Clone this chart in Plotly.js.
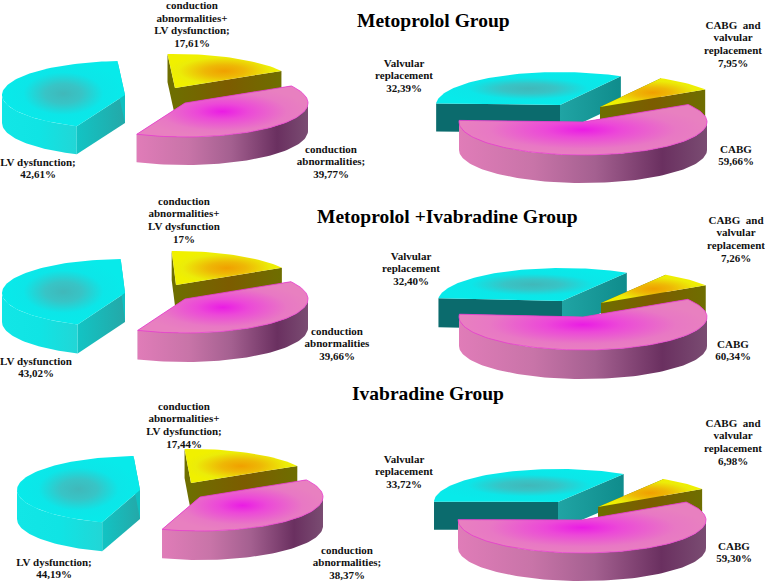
<!DOCTYPE html>
<html>
<head>
<meta charset="utf-8">
<script src="https://cdn.plot.ly/plotly-3.0.1.min.js"></script>
<style>html,body{margin:0;padding:0;background:#fff}#chart{width:765px;height:582px}</style>
</head>
<body>
<div id="chart"></div>
<script>
// ---- data ----
const groupTitles = ["Metoprolol Group", "Metoprolol +Ivabradine Group", "Ivabradine Group"];
const indicationNames = ["conduction abnormalities+LV dysfunction", "conduction abnormalities", "LV dysfunction"];
const surgeryNames = ["CABG and valvular replacement", "CABG", "Valvular replacement"];
const indicationValues = [
  [17.61, 39.77, 42.61],
  [17, 39.66, 43.02],
  [17.44, 38.37, 44.19]
];
const surgeryValues = [
  [7.95, 59.66, 32.39],
  [7.26, 60.34, 32.40],
  [6.98, 59.30, 33.72]
];
const indicationLabels = [
  [["conduction","abnormalities+","LV dysfunction;","17,61%"], ["conduction","abnormalities;","39,77%"], ["LV dysfunction;","42,61%"]],
  [["conduction","abnormalities+","LV dysfunction","17%"], ["conduction","abnormalities","39,66%"], ["LV dysfunction","43,02%"]],
  [["conduction","abnormalities+","LV dysfunction;","17,44%"], ["conduction","abnormalities;","38,37%"], ["LV dysfunction;","44,19%"]]
];
const surgeryLabels = [
  [["CABG  and","valvular","replacement","7,95%"], ["CABG","59,66%"], ["Valvular","replacement","32,39%"]],
  [["CABG  and","valvular","replacement","7,26%"], ["CABG","60,34%"], ["Valvular","replacement","32,40%"]],
  [["CABG  and","valvular","replacement","6,98%"], ["CABG","59,30%"], ["Valvular","replacement","33,72%"]]
];

// ---- layout of the page (pixels on the hidden 765x582 axes) ----
const titlePlace = [[433,20],[447,216],[428,393]];
const leftPlace = [
  {start:-3.5, rx:123, ry:34, depth:28, c:[[175,88],[185,103],[125,95]], text:[[192,6.5],[331,150],[38,163]]},
  {start:-2.0, rx:123, ry:34, depth:29, c:[[176,285],[185,299],[125,293]], text:[[184,202],[337,332],[36,362]]},
  {start:-3.0, rx:123, ry:34, depth:29, c:[[191,483],[200,497],[140,490]], text:[[184,407],[347,551],[54,563]]}
];
const rightPlace = [
  {start:29.4, rx:124, ry:33, depth:28, c:[[600,107],[583,122],[560,105]], text:[[733,26],[736,150],[404,64]]},
  {start:31.5, rx:124, ry:33, depth:29, c:[[601,303],[583,317],[562,301]], text:[[736,221],[733,345],[411,257]]},
  {start:32.0, rx:124, ry:33, depth:28, c:[[598,507],[582,520],[558,502]], text:[[733,424],[734,547],[404,460]]}
];
const lineGap = 12.6;

const flat = c => ({type:'horizontal', colorscale:[[0,c],[1,c]]});
const yellowTop = {type:'radial', colorscale:[[0,'#f0a000'],[0.35,'#eeb806'],[0.8,'#ecec08'],[1,'#f0f000']]};
const magentaTop = {type:'radial', colorscale:[[0,'#ea1ce4'],[0.3,'#ec48d8'],[0.75,'#e878c4'],[1,'#e880c0']]};
const cyanTop = {type:'radial', colorscale:[[0,'#40b8ba'],[0.3,'#38c4c6'],[0.65,'#0ce6e8'],[1,'#08eaea']]};
const olive = {type:'horizontal', colorscale:[[0,'#6e6e00'],[0.5,'#7c5c00'],[1,'#6e6e00']]};
const magentaRim = {type:'horizontal', colorscale:[[0,'#e07cb8'],[0.3,'#c874a8'],[0.55,'#a46090'],[0.82,'#6a3060'],[1,'#7a4c72']]};
const cyanRim = {type:'horizontal', colorscale:[[0,'#12e6e6'],[0.5,'#10e4e4'],[1,'#22d6d6']]};
const tealMid = {type:'horizontal', colorscale:[[0,'#20a4a4'],[1,'#0f8c8c']]};
const tealLeft = {type:'horizontal', colorscale:[[0,'#12c4c4'],[1,'#24a8a8']]};
const tealDark = flat('#0b6b6d');

const rad = d => d * Math.PI / 180;
function rimPoint(p, ang, cx, cy, drop) {
  return [cx + p.rx * Math.sin(rad(ang)), cy - p.ry * Math.cos(rad(ang)) + drop];
}
function arc(p, a, b, cx, cy, drop) {
  const pts = [];
  for (let ang = a; ang < b; ang += 2) pts.push(rimPoint(p, ang, cx, cy, drop));
  pts.push(rimPoint(p, b, cx, cy, drop));
  return pts;
}
function poly(name, pts, grad, lineColor) {
  const xs = pts.map(q => q[0]).concat([pts[0][0]]);
  const ys = pts.map(q => q[1]).concat([pts[0][1]]);
  return {
    type:'scatter', mode:'lines', x:xs, y:ys, fill:'toself', name:name,
    fillcolor: grad.colorscale[grad.colorscale.length-1][1], fillgradient:grad,
    line:{width: lineColor ? 0.8 : 0, color: lineColor || 'rgba(0,0,0,0)'},
    hoverinfo:'name', showlegend:false
  };
}
function slice(p, name, a, b, centre, st) {
  const [cx, cy] = centre, d = p.depth, out = [];
  const edge = (ang, g) => {
    const r0 = rimPoint(p, ang, cx, cy, 0), r1 = rimPoint(p, ang, cx, cy, d);
    out.push(poly(name, [[cx,cy], r0, r1, [cx,cy+d]], g));
  };
  edge(a, st.edgeA); edge(b, st.edgeB);
  const lo = Math.max(a, 90), hi = Math.min(b, 270);
  if (hi > lo) {
    out.push(poly(name, arc(p, lo, hi, cx, cy, 0).concat(arc(p, lo, hi, cx, cy, d).reverse()), st.rim));
  }
  out.push(poly(name, [[cx,cy]].concat(arc(p, a, b, cx, cy, 0)), st.top, st.outline));
  return out;
}
function pie(p, names, values, styles) {
  const total = values.reduce((s,v) => s + v, 0);
  const spans = []; let ang = p.start;
  values.forEach(v => { const next = ang + v / total * 360; spans.push([ang, next]); ang = next; });
  const order = [2, 0, 1];   // cyan at the back, magenta in front
  let out = [];
  order.forEach(i => { out = out.concat(slice(p, names[i], spans[i][0], spans[i][1], p.c[i], styles[i])); });
  return out;
}

const leftStyles = [
  {top:yellowTop, rim:olive, edgeA:flat('#6e6e00'), edgeB:olive},
  {top:magentaTop, rim:magentaRim, edgeA:flat('#8a4a80'), edgeB:flat('#c070a8'), outline:'#e83cd0'},
  {top:cyanTop, rim:cyanRim, edgeA:tealLeft, edgeB:flat('#10c0c0')}
];
const rightStyles = [
  {top:yellowTop, rim:olive, edgeA:flat('#6e6e00'), edgeB:olive},
  {top:magentaTop, rim:magentaRim, edgeA:flat('#8a4a80'), edgeB:flat('#c070a8'), outline:'#e83cd0'},
  {top:cyanTop, rim:cyanRim, edgeA:tealDark, edgeB:tealMid}
];

let traces = [];
const labelX = [], labelY = [], labelText = [];
const addLines = (lines, at) => lines.forEach((t, i) => {
  labelX.push(at[0]); labelY.push(at[1] + i * lineGap); labelText.push('<b>' + t + '</b>');
});
const annotations = [];

groupTitles.forEach((title, g) => {
  traces = traces.concat(pie(leftPlace[g], indicationNames, indicationValues[g], leftStyles));
  traces = traces.concat(pie(rightPlace[g], surgeryNames, surgeryValues[g], rightStyles));
  annotations.push({
    x:titlePlace[g][0], y:titlePlace[g][1], xref:'x', yref:'y', text:'<b>'+title+'</b>', showarrow:false,
    xanchor:'center', yanchor:'middle', font:{family:'"Liberation Serif", serif', size:19.5, color:'#000'}
  });
  indicationLabels[g].forEach((lines, i) => addLines(lines, leftPlace[g].text[i]));
  surgeryLabels[g].forEach((lines, i) => addLines(lines, rightPlace[g].text[i]));
});

traces.push({
  type:'scatter', mode:'text', x:labelX, y:labelY, text:labelText, textposition:'middle center',
  textfont:{family:'"Liberation Serif", serif', size:11, color:'#111'},
  cliponaxis:false, hoverinfo:'skip', showlegend:false
});

Plotly.newPlot('chart', traces, {
  width:765, height:582, margin:{l:0,r:0,t:0,b:0},
  paper_bgcolor:'#fff', plot_bgcolor:'#fff', showlegend:false,
  xaxis:{range:[0,765], visible:false, fixedrange:true},
  yaxis:{range:[582,0], visible:false, fixedrange:true},
  annotations:annotations
}, {displayModeBar:false});
</script>
</body>
</html>
